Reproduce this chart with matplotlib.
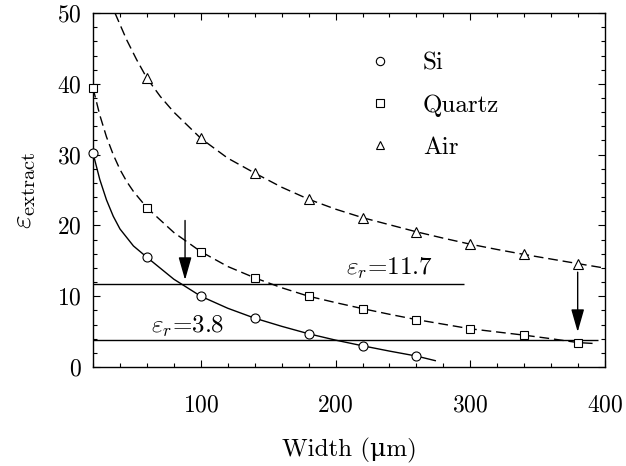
import matplotlib
matplotlib.use("Agg")
import matplotlib.pyplot as plt
from matplotlib.lines import Line2D
from matplotlib.ticker import MultipleLocator

plt.rcParams['font.family'] = ['cmr10', 'DejaVu Serif']
plt.rcParams['mathtext.fontset'] = 'cm'
plt.rcParams['axes.formatter.use_mathtext'] = True

# measured points
width_si = [20, 60, 100, 140, 180, 220, 260]
eps_si = [30.2, 15.5, 10.0, 6.9, 4.7, 3.0, 1.55]
width_quartz = [20, 60, 100, 140, 180, 220, 260, 300, 340, 380]
eps_quartz = [39.4, 22.5, 16.3, 12.6, 10.0, 8.25, 6.7, 5.4, 4.5, 3.45]
width_air = [60, 100, 140, 180, 220, 260, 300, 340, 380]
eps_air = [40.8, 32.3, 27.4, 23.7, 21.1, 19.1, 17.35, 15.9, 14.6]

# fitted curves
fit_si_x = [20, 25, 30, 35, 40, 50, 60, 80, 100, 120, 140, 160, 180,
            200, 220, 240, 260, 274]
fit_si_y = [30.2, 26.5, 23.6, 21.3, 19.5, 17.1, 15.5, 12.4, 10.0, 8.3,
            6.9, 5.75, 4.7, 3.8, 3.0, 2.25, 1.55, 0.9]
fit_quartz_x = [20, 25, 30, 35, 40, 45, 50, 60, 80, 100, 120, 140, 160,
                180, 200, 220, 240, 260, 280, 300, 320, 340, 360, 380, 394]
fit_quartz_y = [39.4, 35.6, 32.5, 30.0, 27.9, 26.2, 24.8, 22.5, 19.0, 16.3, 14.2,
                12.6, 11.2, 10.0, 9.1, 8.25, 7.45, 6.7, 6.05, 5.4, 4.95, 4.5, 4.0,
                3.45, 3.3]
fit_air_x = [36.3, 45, 52.4, 60, 70, 80, 100, 120, 140, 160, 180, 200, 220, 240,
             260, 280, 300, 320, 340, 360, 380, 399]
fit_air_y = [50, 46.2, 43.4, 40.8, 38.2, 36.0, 32.3, 29.5, 27.4, 25.4, 23.7, 22.3,
             21.1, 20.1, 19.1, 18.2, 17.35, 16.6, 15.9, 15.25, 14.6, 14.0]

# substrate permittivities
eps_r_values = [11.7, 3.8]
eps_r_labels = [r'$\varepsilon_r$=11.7', r'$\varepsilon_r$=3.8']
eps_r_xmax = [295, 395]
eps_r_label_x = [240, 90]
eps_r_label_y = [13.0, 4.9]

# arrows: x, tail, tip
arrow_x = [88.3, 379.7]
arrow_tail = [20.7, 13.4]
arrow_tip = [12.3, 4.95]

fig = plt.figure(figsize=(6.26, 4.66), dpi=100)
ax = fig.add_axes([0.1486, 0.2124, 0.8179, 0.7596])

dash = (0, (7, 3.5))
ax.plot(fit_si_x, fit_si_y, color='black', lw=1.0, zorder=2)
ax.plot(fit_quartz_x, fit_quartz_y, color='black', lw=1.0, ls=dash, zorder=2)
ax.plot(fit_air_x, fit_air_y, color='black', lw=1.0, ls=dash, zorder=2)

mk = dict(ls='none', mfc='white', mec='black', mew=0.8, zorder=4, clip_on=False)
ax.plot(width_si, eps_si, marker='o', ms=6.5, **mk)
ax.plot(width_quartz, eps_quartz, marker='s', ms=5.5, **mk)
ax.plot(width_air, eps_air, marker='^', ms=6.5, **mk)

ax.hlines(eps_r_values, 20, eps_r_xmax, color='black', lw=1.0, zorder=3)
for lab, tx, ty in zip(eps_r_labels, eps_r_label_x, eps_r_label_y):
    ax.text(tx, ty, lab, ha='center', va='baseline', fontsize=18)

for x, y0, y1 in zip(arrow_x, arrow_tail, arrow_tip):
    ax.annotate('', xy=(x, y1), xytext=(x, y0),
                arrowprops=dict(arrowstyle='-|>,head_width=0.4,head_length=1.4',
                                color='black', lw=1.0, shrinkA=0, shrinkB=0))

handles = [Line2D([], [], ls='none', marker=m, ms=6, mfc='white', mec='black', mew=0.8)
           for m in ['o', 's', '^']]
ax.legend(handles, ['Si', 'Quartz', 'Air'], loc='upper left',
          bbox_to_anchor=(0.5125, 0.925), frameon=False, fontsize=18,
          handlelength=1.0, handletextpad=1.2, labelspacing=0.78, borderpad=0)

ax.set_xlim(20, 400)
ax.set_ylim(0, 50)
ax.set_xticks([100, 200, 300, 400])
ax.xaxis.set_minor_locator(MultipleLocator(20))
ax.set_yticks([0, 10, 20, 30, 40, 50])
ax.yaxis.set_minor_locator(MultipleLocator(2))
ax.tick_params(which='both', direction='in', top=True, right=True, labelsize=17)
ax.tick_params(which='major', length=5, width=0.8)
ax.tick_params(which='minor', length=3, width=0.8)
ax.tick_params(axis='x', which='major', pad=20)
ax.tick_params(axis='y', which='major', pad=8)
for s in ax.spines.values():
    s.set_linewidth(1.0)

ax.set_xlabel('Width (μm)', fontsize=18, labelpad=15)
ax.set_ylabel(r'$\varepsilon_{\mathrm{extract}}$', fontsize=21, labelpad=14)

fig.savefig('out.png', dpi=100)
